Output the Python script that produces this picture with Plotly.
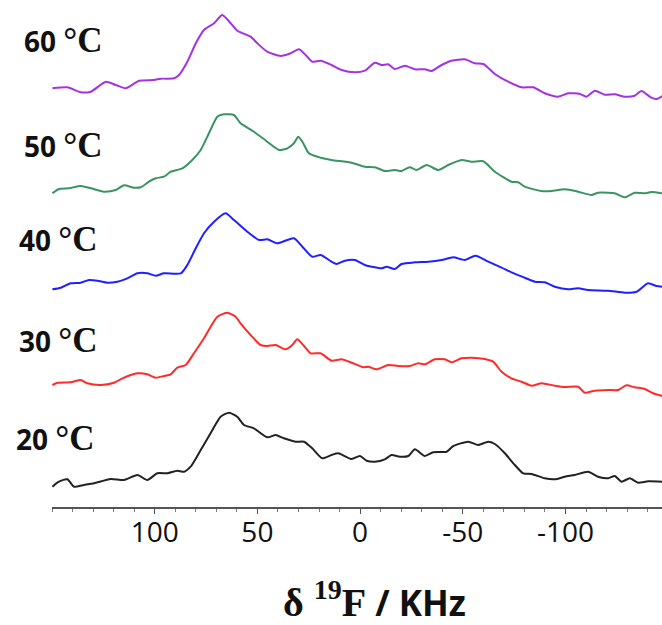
import plotly.graph_objects as go

# ---- data ----
temps = ["20 °C", "30 °C", "40 °C", "50 °C", "60 °C"]
offsets = [20, 120, 215, 310, 415]
colors = ["#222222", "#ff2a2a", "#1f1fff", "#3a9462", "#a532e0"]

x_20 = [149.8, 146.6, 142.5, 139.3, 134.4, 129.5, 121.4, 114.9, 108.4, 103.6, 98.7, 93.8, 89.0, 85.7, 82.5,
        77.6, 72.8, 67.9, 63.8, 59.8, 56.5, 51.7, 45.2, 41.1, 37.1, 31.4, 27.3, 23.3, 18.4, 13.9, 10.6, 4.1,
        0.1, -3.2, -7.2, -12.1, -15.3, -19.4, -23.5, -26.7, -31.5, -35.6, -42.1, -45.4, -52.7, -57.5, -62.4,
        -65.6, -70.5, -74.6, -79.4, -83.5, -89.9, -94.8, -99.7, -104.5, -111.0, -115.9, -120.8, -124.0,
        -127.3, -131.3, -135.4, -140.2, -147.2]
y_20 = [0.3, 5.3, 7.7, 0.3, 2, 3.7, 8, 7, 12, 7, 13.7, 13.7, 16.3, 15.3, 20.3,
        37, 53.7, 70.3, 74.3, 70.3, 62, 58.7, 49.7, 52, 48.7, 45.3, 45.3, 38.7, 28.7, 32, 33.7, 28,
        31, 26.3, 25.3, 27.7, 32, 30.3, 31, 37.7, 31, 34.7, 35.3, 41, 45.3, 42, 45.3,
        43, 33.7, 23.7, 13.7, 13, 8.7, 7.7, 10.3, 12, 15.3, 10.3, 8.7, 11,
        5.3, 8.7, 4.3, 5.7, 5.3]

x_30 = [149.8, 147.3, 140.9, 136.0, 132.8, 126.3, 119.8, 115.7, 108.4, 103.6, 99.5, 95.5, 92.2, 89.0, 84.9,
        80.9, 76.0, 69.5, 64.6, 60.6, 58.2, 53.3, 48.4, 45.2, 41.1, 36.3, 33.0, 30.6, 27.3, 24.1, 19.2,
        13.9, 9.0, 4.1, -1.6, -4.0, -8.0, -13.7, -18.6, -24.2, -28.3, -31.5, -36.4, -41.3, -44.5, -49.4,
        -54.3, -60.7, -64.8, -68.9, -73.7, -78.6, -83.5, -88.3, -94.8, -99.7, -106.2, -109.4, -114.3,
        -120.8, -125.6, -129.7, -133.7, -138.6, -142.7, -147.2]
y_30 = [2, 4.3, 4.7, 7, 3.7, 2, 4.3, 8.7, 13.7, 12.7, 9.3, 11, 12.7, 19.3, 22,
        33.7, 48.7, 70.3, 74.3, 70.3, 63.7, 52, 42, 41, 42, 37.7, 42, 47.7, 41, 33.7, 33.7,
        26.3, 27.7, 24.3, 19.7, 20.3, 17.7, 22, 21, 21, 23.7, 22.7, 27.7, 27.7, 24.7, 28.7,
        29.3, 28, 25.3, 15.3, 8.7, 5.3, 1.3, 3.7, 1.3, 0, 0.3, -5.7, -3.7,
        -3, -3, 1.7, -0.3, -2, -6.3, -9]

x_40 = [149.8, 145.7, 140.9, 136.0, 132.0, 127.9, 123.0, 118.2, 113.3, 108.4, 103.6, 99.5, 95.5, 87.3, 84.1,
        80.0, 76.0, 71.1, 65.5, 61.4, 54.9, 49.2, 45.2, 40.3, 35.4, 32.2, 28.1, 23.3, 19.2, 13.9, 11.4,
        7.4, 2.5, -2.3, -10.5, -12.9, -16.9, -20.2, -26.7, -33.2, -39.7, -45.4, -51.0, -56.2, -62.4,
        -68.9, -73.7, -80.2, -85.1, -89.9, -94.8, -101.3, -106.2, -111.0, -120.8, -128.9, -134.6,
        -140.2, -144.3, -147.2]
y_40 = [2.7, 4.3, 8.7, 9.3, 12, 11.3, 9.3, 10.3, 13.7, 18.7, 18.7, 16.3, 18.7, 18.7, 27,
        43.7, 58.7, 70.3, 78.7, 72, 60.3, 52, 52.7, 48.7, 52, 53.7, 45.3, 35.3, 37, 30.3, 28,
        31.3, 32, 27, 23.7, 25.3, 23, 28, 29.7, 30.3, 32, 34.7, 32, 36.3, 30.3,
        24.3, 19.7, 14.3, 10.3, 9.7, 5.3, 2.7, 3.7, 2, 1.3, -0.7, 0.3,
        8.7, 6, 5.3]

x_50 = [149.8, 146.6, 141.7, 136.0, 131.1, 124.7, 119.0, 114.9, 110.1, 106.8, 102.8, 99.5, 95.5, 92.2, 86.5,
        81.7, 77.6, 73.6, 69.5, 66.3, 61.4, 58.2, 51.7, 45.2, 39.5, 35.4, 32.2, 30.1, 28.1, 24.9, 19.2,
        13.9, 4.1, -2.3, -7.2, -12.1, -16.9, -20.2, -24.2, -27.5, -32.4, -38.1, -42.9, -49.4, -54.3,
        -60.0, -65.6, -73.7, -77.0, -80.2, -88.3, -93.2, -99.7, -106.2, -112.7, -115.9, -120.8, -124.0,
        -128.9, -133.7, -138.6, -141.8, -147.2]
y_50 = [3.7, 8, 8.7, 11, 8.7, 5.3, 7, 11.7, 9.3, 9.7, 15.3, 18.7, 20.3, 25.3, 28.7,
        37, 47, 63.7, 80.3, 82.7, 82, 73.7, 65.3, 55.3, 47, 48.7, 53.7, 60.3, 55.3, 43.7, 39.3,
        37, 34.3, 30.3, 29.7, 26, 27, 26, 29.7, 27, 32, 27, 32, 37, 35.3,
        35.7, 25.3, 15.3, 14.7, 10.3, 6, 6, 7.7, 5.3, 2, 4.3, 4.3, 3.7,
        -0.3, 4.3, 3.7, 5, 3.7]

x_60 = [149.8, 142.5, 136.0, 131.1, 123.8, 119.0, 114.1, 107.6, 100.3, 97.1, 90.6, 88.2, 84.1, 80.0, 76.0,
        71.1, 67.1, 63.0, 59.8, 53.3, 50.0, 45.2, 38.7, 33.8, 29.8, 26.5, 23.3, 19.2, 13.9, 9.0, 2.5,
        -2.3, -7.2, -10.5, -13.7, -16.9, -21.8, -26.7, -31.5, -34.8, -39.7, -44.5, -51.0, -55.9, -60.0,
        -65.6, -72.1, -78.6, -84.3, -89.9, -96.4, -101.3, -107.0, -110.2, -114.3, -119.1, -124.0,
        -128.9, -133.7, -137.0, -141.8, -144.3, -147.2]
y_60 = [3.7, 4.7, -0.3, 0.3, 10.3, 7, 3.7, 11.3, 12, 13.3, 13.7, 17, 30.3, 48.7, 62,
        68.7, 77, 68.7, 61.3, 55.3, 48.7, 40.3, 36, 38.7, 42.7, 37, 30.3, 31.3, 27, 22, 19.7,
        21.3, 29.3, 27, 27.7, 23, 26.3, 22.7, 22.7, 21, 27, 31.3, 32.7, 28.7, 28,
        18, 10.3, 4.7, 4.7, -1.3, -4.7, -1.3, -2, -4.7, 1.3, -2.7, -2.3,
        -4.7, -3.7, 1, -5.7, -7, -4]

xs = [x_20, x_30, x_40, x_50, x_60]
ys = [y_20, y_30, y_40, y_50, y_60]

tick_vals = [100, 50, 0, -50, -100]
tick_text = ["100", "50", "0", "-50", "-100"]

# label positions (paper coords)
label_x = [-0.062, -0.057, -0.057, -0.049, -0.049]
label_y = [0.136, 0.329, 0.527, 0.714, 0.921]

SERIF = "font-family:'Liberation Serif',serif;font-size:35px"

fig = go.Figure()
for t, off, c, x, y in zip(temps, offsets, colors, xs, ys):
    fig.add_trace(go.Scatter(x=x, y=[v + off for v in y], mode="lines",
                             line=dict(color=c, width=2, shape="spline", smoothing=0.6),
                             name=t, showlegend=False, hoverinfo="skip"))

for t, lx, ly in zip(temps, label_x, label_y):
    num, unit = t.split(" ")
    fig.add_annotation(xref="paper", yref="paper", x=lx, y=ly, xanchor="left", yanchor="middle",
                       showarrow=False,
                       text="<b>" + num + " <span style=\"" + SERIF + "\">" + unit + "</span></b>",
                       font=dict(family="Open Sans", size=28, color="#111111"))

fig.add_annotation(xref="paper", yref="paper", x=0.528, y=-0.183, xanchor="center", yanchor="middle",
                   showarrow=False,
                   text="<b><span style=\"font-family:'Liberation Serif',serif;font-size:40px\">δ <sup>19</sup>F</span> / KHz</b>",
                   font=dict(family="Open Sans", size=35, color="#111111"))

fig.update_layout(
    width=662, height=625,
    margin=dict(l=52, r=0, t=0, b=118),
    paper_bgcolor="white", plot_bgcolor="white",
    xaxis=dict(range=[150, -147], showgrid=False, zeroline=False,
               showline=True, linecolor="#555555", linewidth=1.5,
               tickmode="array", tickvals=tick_vals, ticktext=tick_text,
               ticks="outside", ticklen=5, tickcolor="#555555", tickwidth=1,
               minor=dict(dtick=10, ticks="outside", ticklen=3, tickcolor="#777777"),
               tickfont=dict(family="Open Sans", size=28, color="#111111"),
               ticklabelstandoff=-5),
    yaxis=dict(range=[0, 507], visible=False, showgrid=False, zeroline=False),
)

fig.write_html("out.html")
